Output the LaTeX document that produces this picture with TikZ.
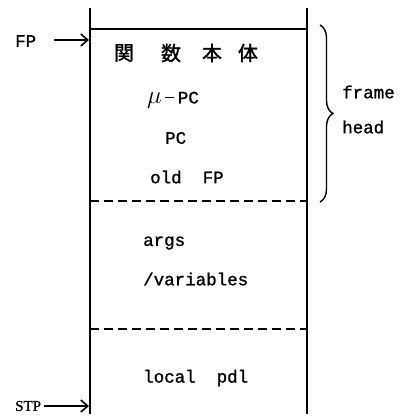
\documentclass[tikz,border=0pt]{standalone}
\usepackage{fontspec}
\setmonofont{Liberation Mono}[FakeBold=1.2]
\newfontfamily\cjk{Noto Sans CJK JP}[FakeBold=1.5]
\newfontfamily\stpfont{Liberation Serif}[FakeBold=1]
\usetikzlibrary{arrows.meta,decorations.pathreplacing}
\begin{document}
\begin{tikzpicture}[x=1pt,y=-1pt,
  wall/.style={line width=1.6pt},
  sep/.style={line width=1.4pt,dash pattern=on 9pt off 5pt},
  ptr/.style={line width=1.6pt,-{Straight Barb[length=7pt,width=12pt,line width=1.6pt]}},
  lbl/.style={font=\ttfamily\fontsize{17.5}{19}\selectfont,inner sep=0pt,anchor=west},
  cj/.style={font=\cjk\fontsize{20}{22}\selectfont,inner sep=0pt}]
\useasboundingbox (0,0) rectangle (408,417);
\fill[white] (0,0) rectangle (408,417);
% walls
\coordinate (lt) at (90,8);
\coordinate (lb) at (90,414);
\coordinate (rt) at (307,8);
\coordinate (rb) at (307,414);
\draw[wall] (lt) -- (lb);
\draw[wall] (rt) -- (rb);
\coordinate (tl) at (90,29);
\coordinate (tr) at (307,29);
\draw[wall] (tl) -- (tr);
\coordinate (d1l) at (90,201);
\coordinate (d1r) at (307,201);
\draw[sep] (d1l) -- (d1r);
\coordinate (d2l) at (90,329);
\coordinate (d2r) at (307,329);
\draw[sep] (d2l) -- (d2r);
% pointers
\node[lbl] (fp) at (15,41) {FP};
\coordinate (fps) at (54,40);
\coordinate (fpe) at (89,40);
\draw[ptr] (fps) -- (fpe);
\node[font=\stpfont\fontsize{15}{17}\selectfont,inner sep=0pt,anchor=west] (stp) at (15,406) {STP};
\coordinate (stpe) at (89,406);
\draw[ptr] (stp.east) ++(3,0) -- (stpe);
% contents
\node[cj] (k1) at (124,53) {関};
\node[cj] (k2) at (171,53) {数};
\node[cj] (k3) at (212,53) {本};
\node[cj] (k4) at (248,53) {体};
\node[lbl] (mpc) at (147,100) {{\fontsize{23}{24}\selectfont$\mu$}\hspace{3pt}\rule[5pt]{9pt}{1.6pt}\hspace{4pt}PC};
\node[lbl] (pc) at (165,138) {PC};
\node[lbl] (ofp) at (150,177) {old\ \ FP};
\node[lbl] (args) at (143,243) {args};
\node[lbl] (vars) at (143,279) {/variables};
\node[lbl] (pdl) at (143,378) {local\ \ pdl};
% brace
\coordinate (bt) at (320,25);
\coordinate (bb) at (320,202);
\draw[line width=1.4pt,decorate,decoration={brace,amplitude=13pt}] (bt) -- (bb);
\node[lbl] (fr) at (342,92) {frame};
\node[lbl] (hd) at (342,127) {head};
\end{tikzpicture}
\end{document}
